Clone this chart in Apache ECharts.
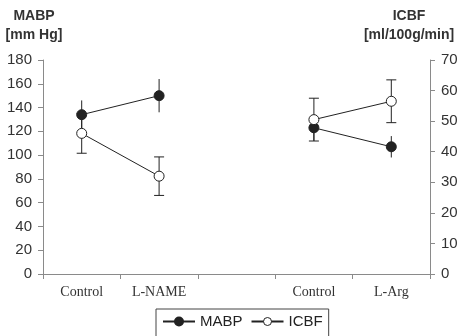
<!DOCTYPE html>
<html>
<head>
<meta charset="utf-8">
<script src="https://cdn.jsdelivr.net/npm/echarts@6/dist/echarts.min.js"></script>
<style>
  html, body { margin: 0; padding: 0; background: #fff; }
  #main { width: 457px; height: 336px; }
</style>
</head>
<body>
<div id="main"></div>
<script>
// groups: control / L-NAME, gap, control / L-Arg
const categories = ['Control', 'L-NAME', '', 'Control', 'L-Arg']
const mabpMean = [134, 150, null, 123, 107] // mm Hg
const mabpErr = [12, 14, null, 11, 9]
const icbfMean = [46, 32, null, 50.5, 56.5] // ml/100g/min
const icbfErr = [6.5, 6.3, null, 7, 7]
const mabpTicks = { min: 0, max: 180, interval: 20 }
const icbfTicks = { min: 0, max: 70, interval: 10 }

const axisGrey = '#8a8a8a'
const ink = '#222'
const titleFont = 'bold 14px "Liberation Sans", Arial'

// [index, mean, err] rows for the error bar series
function errRows (mean, err) {
    const rows = []
    mean.forEach(function (m, i) {
        if (m != null) rows.push([i, m, err[i]])
    })
    return rows
}

function errBar (cap) {
    return function (params, api) {
        const x = api.value(0)
        const m = api.value(1)
        const e = api.value(2)
        const hi = api.coord([x, m + e])
        const lo = api.coord([x, m - e])
        const style = { stroke: ink, lineWidth: 1 }
        const kids = [{ type: 'line', shape: { x1: hi[0], y1: hi[1], x2: lo[0], y2: lo[1] }, style: style }]
        if (cap) {
            kids.push({ type: 'line', shape: { x1: hi[0] - cap, y1: hi[1], x2: hi[0] + cap, y2: hi[1] }, style: style })
            kids.push({ type: 'line', shape: { x1: lo[0] - cap, y1: lo[1], x2: lo[0] + cap, y2: lo[1] }, style: style })
        }
        return { type: 'group', children: kids }
    }
}

const chart = echarts.init(document.getElementById('main'))
chart.setOption({
    animation: false,
    backgroundColor: '#fff',
    // right tick labels run off the edge in the original, so no auto fitting
    grid: { left: 43, right: 27, top: 60, bottom: 62, outerBoundsMode: 'none' },
    // axis titles, each line centred
    graphic: [
        { type: 'text', x: 34, y: 9, style: { text: 'MABP', align: 'center', fill: '#333', font: titleFont } },
        { type: 'text', x: 34, y: 28, style: { text: '[mm Hg]', align: 'center', fill: '#333', font: titleFont } },
        { type: 'text', x: 409, y: 9, style: { text: 'ICBF', align: 'center', fill: '#333', font: titleFont } },
        { type: 'text', x: 409, y: 28, style: { text: '[ml/100g/min]', align: 'center', fill: '#333', font: titleFont } }
    ],
    legend: {
        data: [
            { name: 'MABP' },
            { name: 'ICBF', itemStyle: { color: '#fff', borderColor: ink, borderWidth: 1 } }
        ],
        left: 156,
        top: 309,
        padding: [5, 6, 8, 6],
        itemGap: 8,
        itemWidth: 32,
        itemHeight: 10,
        borderColor: '#444',
        borderWidth: 1,
        borderRadius: 0,
        textStyle: { fontSize: 15, color: '#222', fontFamily: '"Liberation Sans", Arial' }
    },
    xAxis: {
        type: 'category',
        data: categories,
        boundaryGap: true,
        axisLine: { lineStyle: { color: axisGrey } },
        axisTick: { show: true, length: 5, lineStyle: { color: axisGrey } },
        axisLabel: { margin: 11, fontSize: 14, color: '#333', fontFamily: '"Liberation Serif", "Times New Roman", serif' }
    },
    yAxis: [
        {
            type: 'value',
            min: mabpTicks.min, max: mabpTicks.max, interval: mabpTicks.interval,
            splitLine: { show: false },
            axisLine: { show: true, lineStyle: { color: axisGrey } },
            axisTick: { show: true, length: 5, lineStyle: { color: axisGrey } },
            axisLabel: { margin: 11, fontSize: 15, color: '#333', fontFamily: '"Liberation Sans", Arial' }
        },
        {
            type: 'value',
            position: 'right',
            min: icbfTicks.min, max: icbfTicks.max, interval: icbfTicks.interval,
            splitLine: { show: false },
            axisLine: { show: true, lineStyle: { color: axisGrey } },
            axisTick: { show: true, length: 5, lineStyle: { color: axisGrey } },
            axisLabel: { margin: 11, fontSize: 15, color: '#333', fontFamily: '"Liberation Sans", Arial' }
        }
    ],
    series: [
        {
            name: 'MABP err',
            type: 'custom',
            yAxisIndex: 0,
            z: 1,
            renderItem: errBar(0),
            data: errRows(mabpMean, mabpErr)
        },
        {
            name: 'ICBF err',
            type: 'custom',
            yAxisIndex: 1,
            z: 1,
            renderItem: errBar(5),
            data: errRows(icbfMean, icbfErr)
        },
        {
            name: 'MABP',
            type: 'line',
            yAxisIndex: 0,
            z: 3,
            symbol: 'circle',
            symbolSize: 10,
            showAllSymbol: true,
            connectNulls: false,
            lineStyle: { color: ink, width: 1 },
            itemStyle: { color: ink, borderColor: ink, borderWidth: 1 },
            data: mabpMean
        },
        {
            name: 'ICBF',
            type: 'line',
            yAxisIndex: 1,
            z: 4,
            symbol: 'circle',
            symbolSize: 10,
            showAllSymbol: true,
            connectNulls: false,
            lineStyle: { color: ink, width: 1 },
            itemStyle: { color: '#fff', borderColor: ink, borderWidth: 1 },
            data: icbfMean
        }
    ]
})
</script>
</body>
</html>
